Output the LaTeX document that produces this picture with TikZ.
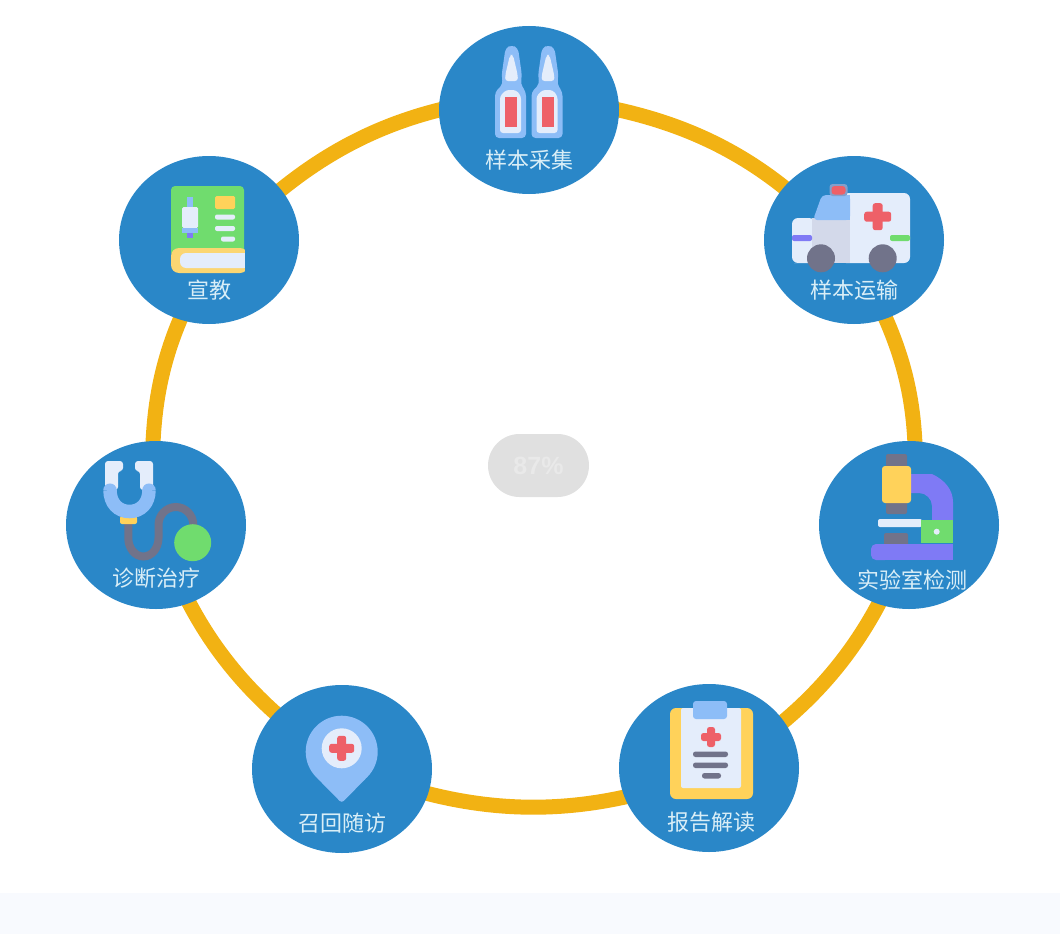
\documentclass[tikz,border=0pt]{standalone}
\usepackage{fontspec}
\newfontfamily\cjk{Noto Sans CJK SC}
\newfontfamily\pctfont{Liberation Sans}
\usetikzlibrary{shapes.geometric,shapes.misc,backgrounds}
\definecolor{ringc}{HTML}{F2B213}
\definecolor{hubc}{HTML}{2A87C8}
\definecolor{labelc}{HTML}{D9EEF7}
\definecolor{bluei}{HTML}{8DBDF7}
\definecolor{palei}{HTML}{E4EDFB}
\definecolor{redi}{HTML}{EE6068}
\definecolor{grayi}{HTML}{71738A}
\definecolor{yellowi}{HTML}{FFD25A}
\definecolor{greeni}{HTML}{70DC6E}
\definecolor{purplei}{HTML}{7F7AF5}
\definecolor{hoodi}{HTML}{D3D9EA}
\definecolor{stripc}{HTML}{F8FAFE}
\definecolor{pillc}{HTML}{E0E0E0}
\definecolor{pilltext}{HTML}{E9E9E9}
\tikzset{
  hub/.style={ellipse,fill=hubc,draw=none,inner sep=0pt,minimum width=180pt,minimum height=168pt},
  hublabel/.style={text=labelc,inner sep=0pt,font=\cjk\fontsize{22}{24}\selectfont},
  ringline/.style={draw=ringc,line width=15pt,line cap=butt,shorten >=-6pt,shorten <=-6pt},
  pill/.style={rounded rectangle,fill=pillc,text=pilltext,minimum width=101pt,minimum height=63pt,inner sep=0pt,font=\pctfont\bfseries\fontsize{25}{27}\selectfont},
}
\newcommand\ringseg[4]{%
  \pgfmathsetmacro\kr{4/3*tan((#4-#3)/4)}%
  \pgfmathsetmacro\ax{\kr*(-381*sin(#3))}%
  \pgfmathsetmacro\ay{\kr*(-354*cos(#3))}%
  \pgfmathsetmacro\bx{-\kr*(-381*sin(#4))}%
  \pgfmathsetmacro\by{-\kr*(-354*cos(#4))}%
  \draw[ringline] (#1) .. controls +(\ax,\ay) and +(\bx,\by) .. (#2);}
\newcommand\medcross[4]{%
  \fill[redi,rounded corners=2.5pt] (#1-#3/2,#2-#4/2) rectangle (#1+#3/2,#2+#4/2);
  \fill[redi,rounded corners=2.5pt] (#1-#4/2,#2-#3/2) rectangle (#1+#4/2,#2+#3/2);}
\newcommand\vial[1]{%
  \begin{scope}[shift={(#1,0)}]
    \fill[bluei,rounded corners=4pt] (495,138) -- (495,92) -- (503,84) -- (501.5,76) -- (505.5,48) -- (511.7,45) -- (518,48) -- (522,76) -- (520.5,84) -- (526,92) -- (526,138) -- cycle;
    \fill[palei,rounded corners=3pt] (500,133) -- (500,96) -- (506,90) -- (516,90) -- (521,96) -- (521,133) -- cycle;
    \fill[palei,rounded corners=3pt] (505,81) -- (505.5,74) -- (510,55) -- (513,55) -- (517.5,74) -- (518,81) -- cycle;
    \fill[redi] (505,97) rectangle (517,127);
  \end{scope}}
\begin{document}
\begin{tikzpicture}[x=1pt,y=-1pt]
\useasboundingbox (0,0) rectangle (1060,934);
\fill[stripc] (0,893) rectangle (1060,934);
\node[hub] (top) at (529,110) {};
\node[hub] (amb) at (854,240) {};
\node[hub] (micro) at (909,525) {};
\node[hub] (report) at (709,768) {};
\node[hub] (recall) at (342,769) {};
\node[hub] (diag) at (156,525) {};
\node[hub] (book) at (209,240) {};
\begin{scope}[on background layer]
  \ringseg{top.0}{amb.143}{77}{48.7}
  \ringseg{amb.-68}{micro.86.5}{22.8}{2}
  \ringseg{micro.249}{report.32}{-25.5}{-48.7}
  \ringseg{report.199.6}{recall.-16}{-76}{-106}
  \ringseg{recall.140.4}{diag.-67.6}{-133.2}{-154.7}
  \ringseg{diag.92.4}{book.250.7}{-182}{-202.2}
  \ringseg{book.35}{top.180}{-228.3}{-255.6}
\end{scope}
\node[pill] (pct) at (538.5,465.5) {87\%};
% vials
\vial{0}
\vial{36.5}
% ambulance
\fill[palei,rounded corners=6pt] (800,263) -- (792,263) -- (792,218) -- (815,218) -- (815,263) -- cycle;
\fill[palei,rounded corners=6pt] (840,193) -- (910,193) -- (910,263) -- (840,263) -- cycle;
\fill[hoodi] (812,218) rectangle (850,263);
\fill[bluei,rounded corners=4pt] (850,220) -- (813,220) -- (822,195) -- (850,195) -- cycle;
\fill[bluei] (840,195) rectangle (850,220);
\fill[bluei!60!grayi,rounded corners=3pt] (829.5,184) rectangle (847.5,196);
\fill[redi,rounded corners=3pt] (831.5,186) rectangle (845.5,194.5);
\medcross{877.7}{216.7}{27}{10}
\fill[purplei,rounded corners=2pt] (792,235) rectangle (812,241);
\fill[greeni,rounded corners=2pt] (890,235) rectangle (910,241);
\fill[grayi] (821,258.3) circle[radius=14];
\fill[grayi] (882.7,258.3) circle[radius=14];
% microscope
\fill[grayi,rounded corners=2pt] (886,454) rectangle (907,470);
\fill[grayi,rounded corners=2pt] (886,500) rectangle (907,514);
\fill[purplei] (911,474) -- (932,474) .. controls (945,480) and (953,490) .. (953,502) -- (953,520) -- (932,520) -- (932,506) .. controls (932,499) and (926,493) .. (919,493) -- (911,493) -- cycle;
\fill[yellowi,rounded corners=3pt] (882,466) rectangle (911,503);
\fill[palei,rounded corners=2pt] (878,519) rectangle (922,527);
\fill[greeni] (921,520) rectangle (953,543);
\fill[palei] (936.7,531.7) circle[radius=3];
\fill[grayi,rounded corners=2pt] (884,533) rectangle (908,546);
\fill[purplei,rounded corners=5pt] (890,560) -- (871,560) -- (871,544) -- (890,544) -- cycle;
\fill[purplei] (885,544) rectangle (953,560);
% clipboard
\fill[yellowi,rounded corners=6pt] (670,708) rectangle (753,799);
\fill[palei,rounded corners=2pt] (681,708) rectangle (741,788);
\fill[bluei,rounded corners=3pt] (693,701) rectangle (727,719);
\medcross{711}{737}{20}{8}
\fill[grayi,rounded corners=2.5pt] (693,751.5) rectangle (728,757);
\fill[grayi,rounded corners=2.5pt] (693,762.5) rectangle (728,768);
\fill[grayi,rounded corners=2.5pt] (702,773) rectangle (721,778.5);
% pin
\fill[bluei,rounded corners=3pt] (341.7,803) -- (316.1,777) -- (367.3,777) -- cycle;
\fill[bluei] (341.7,751.7) circle[radius=36];
\fill[palei] (341.7,748.3) circle[radius=20];
\medcross{341.7}{748.3}{25}{9}
% stethoscope
\draw[grayi,line width=8pt,line cap=round] (128.3,522) -- (128.3,538) arc[start angle=180,end angle=360,x radius=15.1,y radius=-18.5] -- (158.5,525) arc[start angle=180,end angle=0,x radius=17.4,y radius=-18] -- (193.3,530);
\fill[greeni] (192.7,542.7) circle[radius=18.5];
\fill[palei,rounded corners=3pt] (105,461) -- (123,461) -- (123,471) -- (118,471) -- (118,490) -- (105,490) -- cycle;
\fill[palei,rounded corners=3pt] (153,461) -- (135,461) -- (135,471) -- (140,471) -- (140,490) -- (153,490) -- cycle;
\fill[yellowi,rounded corners=2pt] (120,516) rectangle (137,524);
\draw[bluei,line width=13.5pt] (110,490) .. controls (110,503) and (118,511.5) .. (129.4,511.5) .. controls (141,511.5) and (149,503) .. (149,490);
\fill[bluei] (103.25,490.2) arc[start angle=180,end angle=360,radius=6.75] -- cycle;
\fill[bluei] (142.25,490.2) arc[start angle=180,end angle=360,radius=6.75] -- cycle;
% book
\fill[greeni,rounded corners=4pt] (171,186) rectangle (244,256);
\fill[yellowi!85!palei,rounded corners=8pt] (248,273) -- (171,273) -- (171,248) -- (248,248) -- cycle;
\fill[hubc] (245,246) rectangle (250,275);
\fill[palei,rounded corners=6pt] (250,268) -- (180,268) -- (180,253) -- (250,253) -- cycle;
\fill[hubc] (245,252) rectangle (252,269);
\fill[yellowi,rounded corners=1.5pt] (215,196) rectangle (235,209);
\fill[palei,rounded corners=2pt] (215,214.5) rectangle (235,219.5);
\fill[palei,rounded corners=2pt] (215,226) rectangle (235,231);
\fill[palei,rounded corners=2pt] (221,236.5) rectangle (235,241.5);
\fill[bluei] (187,197) rectangle (193,207);
\fill[palei,rounded corners=1.5pt] (182,207) rectangle (198,228);
\fill[bluei] (182,228) rectangle (198,233);
\fill[purplei] (187,233) rectangle (193,238);
% labels
\node[hublabel] (ltop) at (529,160) {样本采集};
\node[hublabel] (lamb) at (854,290) {样本运输};
\node[hublabel] (lmicro) at (912,580) {实验室检测};
\node[hublabel] (lreport) at (711,822) {报告解读};
\node[hublabel] (lrecall) at (342,823) {召回随访};
\node[hublabel] (ldiag) at (156,578) {诊断治疗};
\node[hublabel] (lbook) at (209,290) {宣教};
\end{tikzpicture}
\end{document}
